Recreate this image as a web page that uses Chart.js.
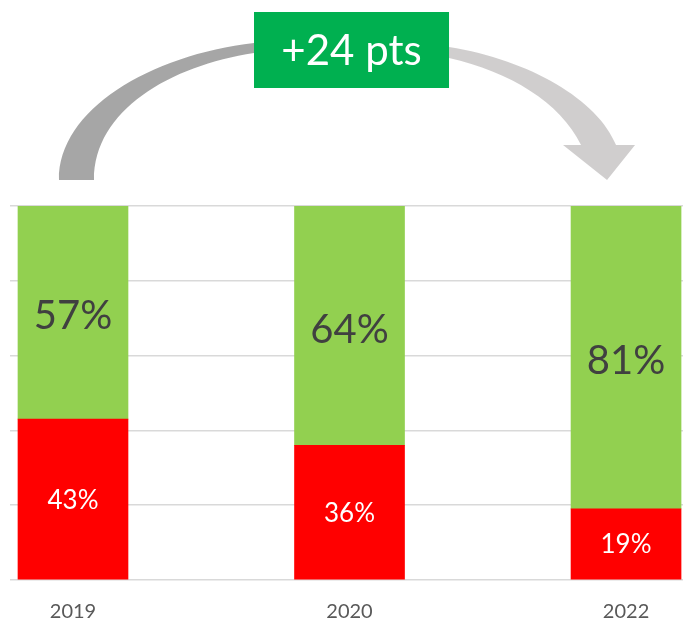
<!DOCTYPE html>
<html>
<head>
<meta charset="utf-8">
<script src="https://cdn.jsdelivr.net/npm/chart.js@4/dist/chart.umd.min.js"></script>
<style>
  html, body { margin: 0; padding: 0; background: #fff; }
  #wrap { width: 688px; height: 621px; }
</style>
</head>
<body>
<div id="wrap"><canvas id="chart"></canvas></div>
<script>
const years = ['2019', '2020', '2022'];
const redValues = [43, 36, 19];
const greenValues = [57, 64, 81];
const changeLabel = '+24 pts';

const FONT = 'Lato, "Open Sans", sans-serif';

// data labels centred in each segment
const segmentLabels = {
    id: 'segmentLabels',
    afterDatasetsDraw(chart) {
        const ctx = chart.ctx;
        chart.data.datasets.forEach((ds, di) => {
            const meta = chart.getDatasetMeta(di);
            meta.data.forEach((bar, i) => {
                const v = ds.data[i].y;
                const cy = (bar.y + bar.base) / 2;
                ctx.save();
                ctx.textAlign = 'center';
                ctx.textBaseline = 'middle';
                if (di === 0) {
                    ctx.fillStyle = '#ffffff';
                    ctx.font = '26px ' + FONT;
                    ctx.fillText(v + '%', bar.x, cy + 1);
                } else {
                    ctx.fillStyle = '#404040';
                    ctx.font = '40px ' + FONT;
                    ctx.fillText(v + '%', bar.x, cy + 4);
                }
                ctx.restore();
            });
        });
    }
};

// curved arrow from first bar to last bar, with the change box on top
const changeArrow = {
    id: 'changeArrow',
    afterDraw(chart) {
        const ctx = chart.ctx;
        const xs = chart.scales.x;
        const x0 = xs.getPixelForValue(0);
        const x2 = xs.getPixelForValue(years.length - 1);
        const dx = (x2 - x0) / 553;
        const px = (x) => x0 + (x - 73) * dx;

        ctx.save();
        const grad = ctx.createLinearGradient(px(254), 0, px(449), 0);
        grad.addColorStop(0, '#a6a6a6');
        grad.addColorStop(1, '#d0cece');
        ctx.fillStyle = grad;
        ctx.beginPath();
        ctx.moveTo(px(59), 180);
        ctx.bezierCurveTo(px(58), 110, px(150), 55, px(254), 43);
        ctx.bezierCurveTo(px(320), 35, px(390), 38, px(449), 47);
        ctx.bezierCurveTo(px(530), 60, px(598), 100, px(616), 145);
        ctx.lineTo(px(635), 145);
        ctx.lineTo(px(607), 180);
        ctx.lineTo(px(563), 145);
        ctx.lineTo(px(581), 145);
        ctx.bezierCurveTo(px(560), 102, px(510), 72, px(449), 58);
        ctx.bezierCurveTo(px(390), 48, px(320), 46, px(254), 53);
        ctx.bezierCurveTo(px(170), 66, px(94), 110, px(94), 180);
        ctx.closePath();
        ctx.fill();

        // box
        const bx = px(254), bw = px(449) - px(254);
        ctx.fillStyle = '#00b050';
        ctx.fillRect(bx, 12, bw, 76);
        ctx.fillStyle = '#ffffff';
        ctx.font = '42px ' + FONT;
        ctx.textAlign = 'center';
        ctx.textBaseline = 'alphabetic';
        ctx.fillText(changeLabel, bx + bw / 2, 65);
        ctx.restore();
    }
};

const ctx = document.getElementById('chart').getContext('2d');
new Chart(ctx, {
    type: 'bar',
    data: {
        datasets: [
            {
                label: 'Red',
                data: redValues.map((v, i) => ({ x: i, y: v })),
                backgroundColor: '#ff0000',
                barThickness: 110
            },
            {
                label: 'Green',
                data: greenValues.map((v, i) => ({ x: i, y: v })),
                backgroundColor: '#92d050',
                barThickness: 110
            }
        ]
    },
    options: {
        responsive: true,
        maintainAspectRatio: false,
        animation: false,
        layout: { padding: { top: 206, left: 10, right: 5, bottom: 0 } },
        plugins: {
            legend: { display: false },
            tooltip: { enabled: false }
        },
        scales: {
            x: {
                type: 'linear',
                stacked: true,
                offset: false,
                min: -0.2278,
                max: 2.206,
                grid: { display: false, offset: false },
                border: { display: false },
                ticks: {
                    stepSize: 1,
                    includeBounds: false,
                    autoSkip: false,
                    maxRotation: 0,
                    padding: 12,
                    color: '#595959',
                    font: { family: FONT, size: 20 },
                    callback: (v) => years[v] !== undefined && Number.isInteger(v) ? years[v] : ''
                },
                afterFit(scale) { scale.height = 41; }
            },
            y: {
                stacked: true,
                min: 0,
                max: 100,
                grid: { color: '#d9d9d9', lineWidth: 1.5, drawTicks: false },
                border: { display: false },
                ticks: { display: false, stepSize: 20 },
                afterFit(scale) { scale.width = 0; }
            }
        }
    },
    plugins: [segmentLabels, changeArrow]
});
</script>
</body>
</html>
